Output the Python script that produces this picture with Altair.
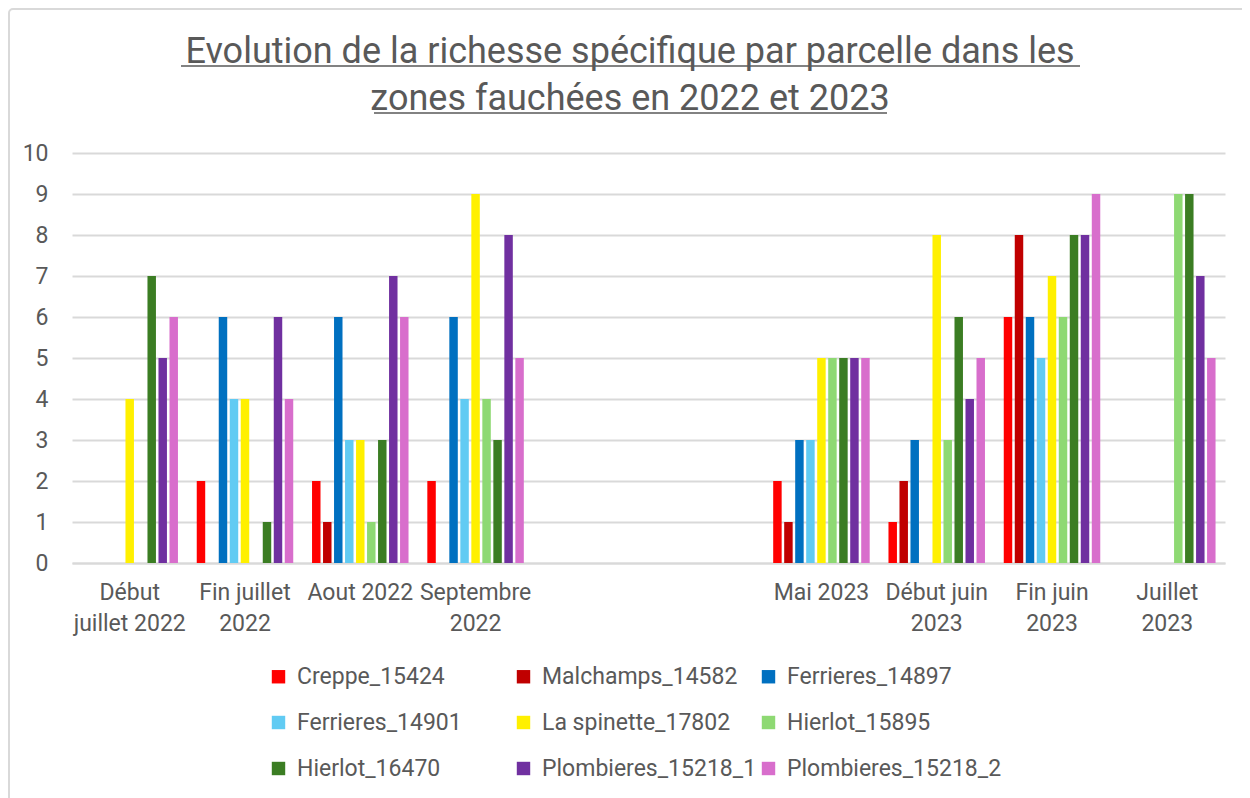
import altair as alt
import pandas as pd

title_lines = ["Evolution de la richesse spécifique par parcelle dans les",
               "zones fauchées en 2022 et 2023"]
categories = ["Début|juillet 2022", "Fin juillet|2022", "Aout 2022", "Septembre|2022",
              "gap1", "gap2",
              "Mai 2023", "Début juin|2023", "Fin juin|2023", "Juillet|2023"]
series = ["Creppe_15424", "Malchamps_14582", "Ferrieres_14897",
          "Ferrieres_14901", "La spinette_17802", "Hierlot_15895",
          "Hierlot_16470", "Plombieres_15218_1", "Plombieres_15218_2"]
colors = ["#FF0000", "#C00000", "#0070C0", "#61CBF3", "#FFF000",
          "#8ED973", "#3B7D23", "#7030A0", "#D86ECC"]

debut_juillet_2022 = [0, 0, 0, 0, 4, 0, 7, 5, 6]
fin_juillet_2022 = [2, 0, 6, 4, 4, 0, 1, 6, 4]
aout_2022 = [2, 1, 6, 3, 3, 1, 3, 7, 6]
septembre_2022 = [2, 0, 6, 4, 9, 4, 3, 8, 5]
mai_2023 = [2, 1, 3, 3, 5, 5, 5, 5, 5]
debut_juin_2023 = [1, 2, 3, 0, 8, 3, 6, 4, 5]
fin_juin_2023 = [6, 8, 6, 5, 7, 6, 8, 8, 9]
juillet_2023 = [0, 0, 0, 0, 0, 9, 9, 7, 5]

values_by_cat = {
    categories[0]: debut_juillet_2022,
    categories[1]: fin_juillet_2022,
    categories[2]: aout_2022,
    categories[3]: septembre_2022,
    categories[6]: mai_2023,
    categories[7]: debut_juin_2023,
    categories[8]: fin_juin_2023,
    categories[9]: juillet_2023,
}

rows = []
for cat, vals in values_by_cat.items():
    for s, v in zip(series, vals):
        rows.append({"periode": cat, "parcelle": s, "valeur": v})
df = pd.DataFrame(rows)

W, H = 1153, 410
FONT = "Roboto"
GREY = "#595959"
FS = 23

bars = alt.Chart(df).mark_bar().encode(
    x=alt.X("periode:N", sort=categories,
            scale=alt.Scale(domain=categories, paddingInner=0.163, paddingOuter=0.082),
            axis=alt.Axis(title=None, labelAngle=0, ticks=False, domain=True,
                          domainColor="#D9D9D9", domainWidth=2,
                          labelExpr="indexof(datum.value,'gap')==0 ? '' : split(datum.value,'|')",
                          labelFontSize=FS, labelColor=GREY, labelFont=FONT,
                          labelPadding=18, labelLineHeight=31, labelBaseline="top")),
    xOffset=alt.XOffset("parcelle:N", sort=series,
                        scale=alt.Scale(domain=series, paddingInner=0.23, paddingOuter=0)),
    y=alt.Y("valeur:Q", scale=alt.Scale(domain=[0, 10]),
            axis=alt.Axis(title=None, values=list(range(11)), ticks=False, domain=False,
                          gridColor="#D9D9D9", gridWidth=2,
                          labelFontSize=FS, labelColor=GREY, labelFont=FONT,
                          labelPadding=24)),
    color=alt.Color("parcelle:N", sort=series,
                    scale=alt.Scale(domain=series, range=colors),
                    legend=alt.Legend(title=None, orient="none", legendX=195, legendY=512,
                                      direction="horizontal", columns=3, gridAlign="all",
                                      columnPadding=-2, rowPadding=22,
                                      symbolType="square", symbolSize=180,
                                      symbolStrokeWidth=0, labelFontSize=FS,
                                      labelColor=GREY, labelFont=FONT, labelOffset=7,
                                      labelLimit=300, padding=0)),
)

title = alt.Chart(pd.DataFrame({"a": [0]})).mark_text(
    text=title_lines, font=FONT, fontSize=36, color=GREY, align="center",
    baseline="alphabetic", lineHeight=47
).encode(x=alt.value(558), y=alt.value(-90))

underline_src = pd.DataFrame({"x": [109, 302], "x2": [1008, 815], "y": [-87, -40]})
underline = alt.Chart(underline_src).mark_rule(color=GREY, strokeWidth=1.5).encode(
    x=alt.X("x:Q", scale=None), x2="x2:Q", y=alt.Y("y:Q", scale=None)
)

frame = alt.Chart(pd.DataFrame({"a": [0]})).mark_rect(
    fill=None, stroke="#D9D9D9", strokeWidth=2, cornerRadius=4
).encode(x=alt.value(-63), x2=alt.value(W + 200), y=alt.value(-144), y2=alt.value(H + 400))

chart = alt.layer(frame, bars, title, underline).properties(
    width=W, height=H,
    autosize=alt.AutoSizeParams(type="none"),
    padding={"left": 64, "top": 145, "right": 17, "bottom": 237},
).configure_view(stroke=None)

chart.save("out.html", embed_options={"renderer": "svg", "actions": False})
